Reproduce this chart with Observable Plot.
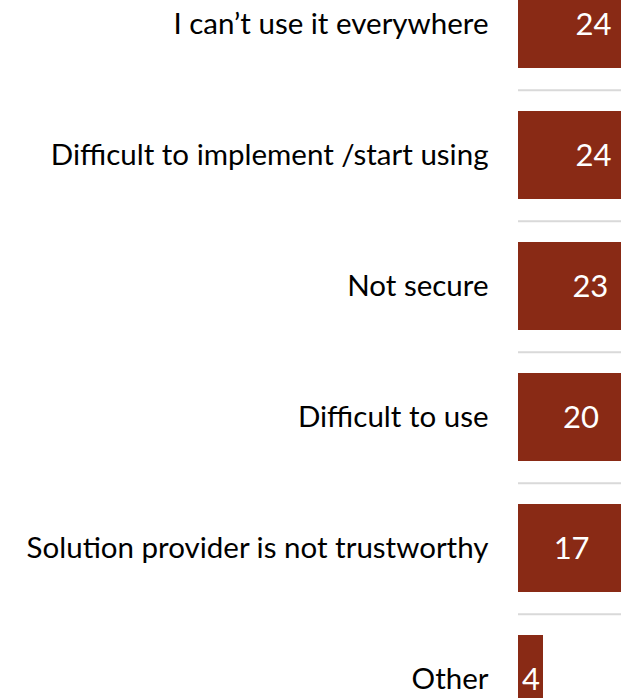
<!DOCTYPE html>
<html><head><meta charset="utf-8">
<script src="https://cdn.jsdelivr.net/npm/d3@7"></script>
<script src="https://cdn.jsdelivr.net/npm/@observablehq/plot@0.6"></script>
<style>
  html, body { margin: 0; padding: 0; overflow: hidden; background: #fff; }
  #chart svg { overflow: hidden; display: block; }
</style>
</head><body><div id="chart"></div>
<script>
const categories = [
  "I can\u2019t use it everywhere",
  "Difficult to implement /start using",
  "Not secure",
  "Difficult to use",
  "Solution provider is not trustworthy",
  "Other"
];
const values = [24, 24, 23, 20, 17, 4];

const data = categories.map((c, i) => ({category: c, value: values[i]}));
const step = 131.6;
const barColor = "#892a15";

const plot = Plot.plot({
  width: 621,
  height: 698,
  marginLeft: 518, marginRight: 0, marginTop: 0, marginBottom: 0,
  style: {fontFamily: "Lato, 'Open Sans', sans-serif", background: "white"},
  x: {domain: [0, (621 - 518) / 6.25], axis: null},
  y: {domain: categories, range: [22 - step / 2, 22 + 5.5 * step], paddingInner: 0.331, paddingOuter: 0.1655, axis: null},
  marks: [
    Plot.ruleY(categories.slice(0, 5), {y: d => d, dy: step / 2, stroke: "#d9d9d9", strokeWidth: 2}),
    Plot.barX(data, {x: "value", y: "category", fill: barColor}),
    Plot.text(data, {x: d => d.value / 2, y: "category", text: d => String(d.value), fill: "white", fontSize: 31, dy: 1}),
    Plot.text(data, {x: 0, y: "category", text: "category", textAnchor: "end", dx: -30, fontSize: 29.5, fill: "black"})
  ]
});
document.getElementById("chart").appendChild(plot);
</script>
</body></html>
